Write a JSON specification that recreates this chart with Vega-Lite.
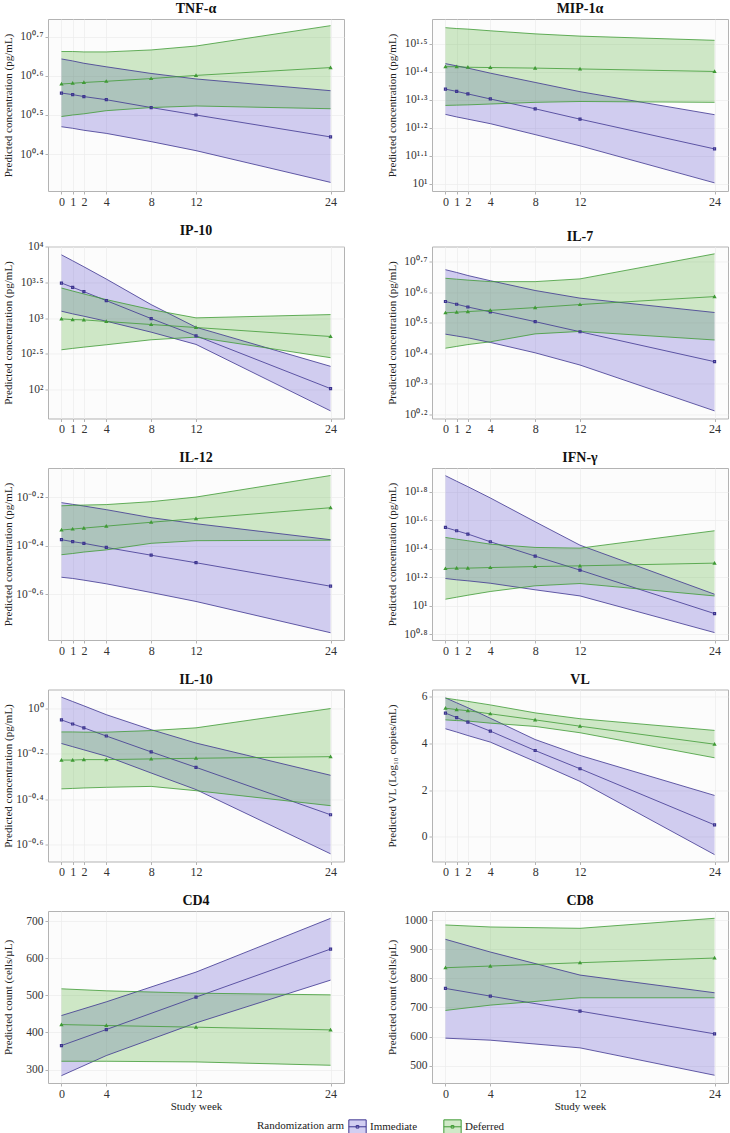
{
"$schema": "https://vega.github.io/schema/vega-lite/v6.json",
"padding": {"left": 1, "top": 1, "right": 0, "bottom": 0},
"background": "white",
"data": {"values": [
{"panel":"TNF-α","arm":"Immediate","week":0,"est":0.556,"lo":0.470,"hi":0.643},
{"panel":"TNF-α","arm":"Immediate","week":1,"est":0.552,"lo":0.466,"hi":0.638},
{"panel":"TNF-α","arm":"Immediate","week":2,"est":0.547,"lo":0.461,"hi":0.632},
{"panel":"TNF-α","arm":"Immediate","week":4,"est":0.539,"lo":0.453,"hi":0.623},
{"panel":"TNF-α","arm":"Immediate","week":8,"est":0.519,"lo":0.432,"hi":0.606},
{"panel":"TNF-α","arm":"Immediate","week":12,"est":0.500,"lo":0.409,"hi":0.592},
{"panel":"TNF-α","arm":"Immediate","week":24,"est":0.444,"lo":0.328,"hi":0.562},
{"panel":"TNF-α","arm":"Deferred","week":0,"est":0.579,"lo":0.496,"hi":0.662},
{"panel":"TNF-α","arm":"Deferred","week":1,"est":0.581,"lo":0.500,"hi":0.662},
{"panel":"TNF-α","arm":"Deferred","week":2,"est":0.583,"lo":0.503,"hi":0.661},
{"panel":"TNF-α","arm":"Deferred","week":4,"est":0.586,"lo":0.511,"hi":0.661},
{"panel":"TNF-α","arm":"Deferred","week":8,"est":0.593,"lo":0.519,"hi":0.666},
{"panel":"TNF-α","arm":"Deferred","week":12,"est":0.601,"lo":0.523,"hi":0.676},
{"panel":"TNF-α","arm":"Deferred","week":24,"est":0.621,"lo":0.516,"hi":0.728},
{"panel":"MIP-1α","arm":"Immediate","week":0,"est":1.338,"lo":1.248,"hi":1.429},
{"panel":"MIP-1α","arm":"Immediate","week":1,"est":1.330,"lo":1.239,"hi":1.421},
{"panel":"MIP-1α","arm":"Immediate","week":2,"est":1.321,"lo":1.231,"hi":1.413},
{"panel":"MIP-1α","arm":"Immediate","week":4,"est":1.303,"lo":1.215,"hi":1.395},
{"panel":"MIP-1α","arm":"Immediate","week":8,"est":1.268,"lo":1.176,"hi":1.362},
{"panel":"MIP-1α","arm":"Immediate","week":12,"est":1.231,"lo":1.136,"hi":1.329},
{"panel":"MIP-1α","arm":"Immediate","week":24,"est":1.125,"lo":1.004,"hi":1.247},
{"panel":"MIP-1α","arm":"Deferred","week":0,"est":1.418,"lo":1.280,"hi":1.557},
{"panel":"MIP-1α","arm":"Deferred","week":1,"est":1.418,"lo":1.281,"hi":1.554},
{"panel":"MIP-1α","arm":"Deferred","week":2,"est":1.416,"lo":1.282,"hi":1.552},
{"panel":"MIP-1α","arm":"Deferred","week":4,"est":1.415,"lo":1.285,"hi":1.546},
{"panel":"MIP-1α","arm":"Deferred","week":8,"est":1.413,"lo":1.291,"hi":1.535},
{"panel":"MIP-1α","arm":"Deferred","week":12,"est":1.410,"lo":1.294,"hi":1.527},
{"panel":"MIP-1α","arm":"Deferred","week":24,"est":1.401,"lo":1.291,"hi":1.512},
{"panel":"IP-10","arm":"Immediate","week":0,"est":3.493,"lo":3.098,"hi":3.888},
{"panel":"IP-10","arm":"Immediate","week":1,"est":3.433,"lo":3.061,"hi":3.805},
{"panel":"IP-10","arm":"Immediate","week":2,"est":3.372,"lo":3.028,"hi":3.721},
{"panel":"IP-10","arm":"Immediate","week":4,"est":3.247,"lo":2.958,"hi":3.549},
{"panel":"IP-10","arm":"Immediate","week":8,"est":2.995,"lo":2.805,"hi":3.191},
{"panel":"IP-10","arm":"Immediate","week":12,"est":2.754,"lo":2.633,"hi":2.874},
{"panel":"IP-10","arm":"Immediate","week":24,"est":2.014,"lo":1.702,"hi":2.326},
{"panel":"IP-10","arm":"Deferred","week":0,"est":2.991,"lo":2.558,"hi":3.423},
{"panel":"IP-10","arm":"Deferred","week":1,"est":2.981,"lo":2.577,"hi":3.381},
{"panel":"IP-10","arm":"Deferred","week":2,"est":2.977,"lo":2.595,"hi":3.340},
{"panel":"IP-10","arm":"Deferred","week":4,"est":2.954,"lo":2.628,"hi":3.261},
{"panel":"IP-10","arm":"Deferred","week":8,"est":2.912,"lo":2.698,"hi":3.121},
{"panel":"IP-10","arm":"Deferred","week":12,"est":2.870,"lo":2.735,"hi":3.005},
{"panel":"IP-10","arm":"Deferred","week":24,"est":2.744,"lo":2.447,"hi":3.051},
{"panel":"IL-7","arm":"Immediate","week":0,"est":0.569,"lo":0.462,"hi":0.673},
{"panel":"IL-7","arm":"Immediate","week":1,"est":0.560,"lo":0.456,"hi":0.664},
{"panel":"IL-7","arm":"Immediate","week":2,"est":0.551,"lo":0.450,"hi":0.654},
{"panel":"IL-7","arm":"Immediate","week":4,"est":0.535,"lo":0.435,"hi":0.637},
{"panel":"IL-7","arm":"Immediate","week":8,"est":0.503,"lo":0.401,"hi":0.605},
{"panel":"IL-7","arm":"Immediate","week":12,"est":0.470,"lo":0.361,"hi":0.580},
{"panel":"IL-7","arm":"Immediate","week":24,"est":0.372,"lo":0.211,"hi":0.533},
{"panel":"IL-7","arm":"Deferred","week":0,"est":0.532,"lo":0.416,"hi":0.645},
{"panel":"IL-7","arm":"Deferred","week":1,"est":0.534,"lo":0.422,"hi":0.642},
{"panel":"IL-7","arm":"Deferred","week":2,"est":0.536,"lo":0.428,"hi":0.639},
{"panel":"IL-7","arm":"Deferred","week":4,"est":0.540,"lo":0.437,"hi":0.634},
{"panel":"IL-7","arm":"Deferred","week":8,"est":0.549,"lo":0.463,"hi":0.634},
{"panel":"IL-7","arm":"Deferred","week":12,"est":0.559,"lo":0.471,"hi":0.643},
{"panel":"IL-7","arm":"Deferred","week":24,"est":0.585,"lo":0.443,"hi":0.725},
{"panel":"IL-12","arm":"Immediate","week":0,"est":-0.375,"lo":-0.530,"hi":-0.222},
{"panel":"IL-12","arm":"Immediate","week":1,"est":-0.383,"lo":-0.535,"hi":-0.229},
{"panel":"IL-12","arm":"Immediate","week":2,"est":-0.390,"lo":-0.542,"hi":-0.236},
{"panel":"IL-12","arm":"Immediate","week":4,"est":-0.407,"lo":-0.557,"hi":-0.251},
{"panel":"IL-12","arm":"Immediate","week":8,"est":-0.439,"lo":-0.593,"hi":-0.284},
{"panel":"IL-12","arm":"Immediate","week":12,"est":-0.470,"lo":-0.630,"hi":-0.309},
{"panel":"IL-12","arm":"Immediate","week":24,"est":-0.567,"lo":-0.759,"hi":-0.375},
{"panel":"IL-12","arm":"Deferred","week":0,"est":-0.335,"lo":-0.437,"hi":-0.235},
{"panel":"IL-12","arm":"Deferred","week":1,"est":-0.331,"lo":-0.432,"hi":-0.233},
{"panel":"IL-12","arm":"Deferred","week":2,"est":-0.327,"lo":-0.426,"hi":-0.232},
{"panel":"IL-12","arm":"Deferred","week":4,"est":-0.319,"lo":-0.417,"hi":-0.230},
{"panel":"IL-12","arm":"Deferred","week":8,"est":-0.303,"lo":-0.390,"hi":-0.218},
{"panel":"IL-12","arm":"Deferred","week":12,"est":-0.288,"lo":-0.379,"hi":-0.199},
{"panel":"IL-12","arm":"Deferred","week":24,"est":-0.243,"lo":-0.377,"hi":-0.110},
{"panel":"IFN-γ","arm":"Immediate","week":0,"est":1.549,"lo":1.191,"hi":1.912},
{"panel":"IFN-γ","arm":"Immediate","week":1,"est":1.526,"lo":1.182,"hi":1.873},
{"panel":"IFN-γ","arm":"Immediate","week":2,"est":1.503,"lo":1.175,"hi":1.835},
{"panel":"IFN-γ","arm":"Immediate","week":4,"est":1.449,"lo":1.158,"hi":1.756},
{"panel":"IFN-γ","arm":"Immediate","week":8,"est":1.348,"lo":1.112,"hi":1.589},
{"panel":"IFN-γ","arm":"Immediate","week":12,"est":1.250,"lo":1.069,"hi":1.425},
{"panel":"IFN-γ","arm":"Immediate","week":24,"est":0.945,"lo":0.812,"hi":1.081},
{"panel":"IFN-γ","arm":"Deferred","week":0,"est":1.261,"lo":1.046,"hi":1.479},
{"panel":"IFN-γ","arm":"Deferred","week":1,"est":1.264,"lo":1.060,"hi":1.467},
{"panel":"IFN-γ","arm":"Deferred","week":2,"est":1.264,"lo":1.074,"hi":1.456},
{"panel":"IFN-γ","arm":"Deferred","week":4,"est":1.268,"lo":1.100,"hi":1.432},
{"panel":"IFN-γ","arm":"Deferred","week":8,"est":1.275,"lo":1.140,"hi":1.409},
{"panel":"IFN-γ","arm":"Deferred","week":12,"est":1.280,"lo":1.156,"hi":1.404},
{"panel":"IFN-γ","arm":"Deferred","week":24,"est":1.299,"lo":1.069,"hi":1.526},
{"panel":"IL-10","arm":"Immediate","week":0,"est":-0.050,"lo":-0.154,"hi":0.050},
{"panel":"IL-10","arm":"Immediate","week":1,"est":-0.068,"lo":-0.168,"hi":0.031},
{"panel":"IL-10","arm":"Immediate","week":2,"est":-0.085,"lo":-0.182,"hi":0.012},
{"panel":"IL-10","arm":"Immediate","week":4,"est":-0.121,"lo":-0.210,"hi":-0.027},
{"panel":"IL-10","arm":"Immediate","week":8,"est":-0.191,"lo":-0.284,"hi":-0.093},
{"panel":"IL-10","arm":"Immediate","week":12,"est":-0.259,"lo":-0.357,"hi":-0.152},
{"panel":"IL-10","arm":"Immediate","week":24,"est":-0.468,"lo":-0.640,"hi":-0.294},
{"panel":"IL-10","arm":"Deferred","week":0,"est":-0.227,"lo":-0.354,"hi":-0.103},
{"panel":"IL-10","arm":"Deferred","week":1,"est":-0.227,"lo":-0.352,"hi":-0.103},
{"panel":"IL-10","arm":"Deferred","week":2,"est":-0.225,"lo":-0.350,"hi":-0.104},
{"panel":"IL-10","arm":"Deferred","week":4,"est":-0.225,"lo":-0.347,"hi":-0.104},
{"panel":"IL-10","arm":"Deferred","week":8,"est":-0.222,"lo":-0.343,"hi":-0.097},
{"panel":"IL-10","arm":"Deferred","week":12,"est":-0.219,"lo":-0.362,"hi":-0.085},
{"panel":"IL-10","arm":"Deferred","week":24,"est":-0.212,"lo":-0.428,"hi":0.000},
{"panel":"VL","arm":"Immediate","week":0,"est":5.29,"lo":4.62,"hi":5.94},
{"panel":"VL","arm":"Immediate","week":1,"est":5.10,"lo":4.48,"hi":5.73},
{"panel":"VL","arm":"Immediate","week":2,"est":4.90,"lo":4.33,"hi":5.52},
{"panel":"VL","arm":"Immediate","week":4,"est":4.52,"lo":4.05,"hi":5.07},
{"panel":"VL","arm":"Immediate","week":8,"est":3.69,"lo":3.22,"hi":4.16},
{"panel":"VL","arm":"Immediate","week":12,"est":2.91,"lo":2.37,"hi":3.48},
{"panel":"VL","arm":"Immediate","week":24,"est":0.51,"lo":-0.76,"hi":1.77},
{"panel":"VL","arm":"Deferred","week":0,"est":5.50,"lo":5.00,"hi":5.93},
{"panel":"VL","arm":"Deferred","week":1,"est":5.44,"lo":4.97,"hi":5.86},
{"panel":"VL","arm":"Deferred","week":2,"est":5.39,"lo":4.95,"hi":5.79},
{"panel":"VL","arm":"Deferred","week":4,"est":5.26,"lo":4.86,"hi":5.64},
{"panel":"VL","arm":"Deferred","week":8,"est":5.00,"lo":4.72,"hi":5.30},
{"panel":"VL","arm":"Deferred","week":12,"est":4.73,"lo":4.45,"hi":5.05},
{"panel":"VL","arm":"Deferred","week":24,"est":3.96,"lo":3.38,"hi":4.55},
{"panel":"CD4","arm":"Immediate","week":0,"est":364.7,"lo":283.8,"hi":445.6},
{"panel":"CD4","arm":"Immediate","week":4,"est":407.9,"lo":337.8,"hi":482.5},
{"panel":"CD4","arm":"Immediate","week":12,"est":495.1,"lo":425.8,"hi":562.5},
{"panel":"CD4","arm":"Immediate","week":24,"est":624.5,"lo":540.9,"hi":707.2},
{"panel":"CD4","arm":"Deferred","week":0,"est":421.3,"lo":322.5,"hi":517.5},
{"panel":"CD4","arm":"Deferred","week":4,"est":418.7,"lo":322.5,"hi":512.1},
{"panel":"CD4","arm":"Deferred","week":12,"est":414.2,"lo":320.7,"hi":505.8},
{"panel":"CD4","arm":"Deferred","week":24,"est":407.0,"lo":311.7,"hi":501.3},
{"panel":"CD8","arm":"Immediate","week":0,"est":765.5,"lo":594.3,"hi":934.5},
{"panel":"CD8","arm":"Immediate","week":4,"est":739.1,"lo":587.4,"hi":890.8},
{"panel":"CD8","arm":"Immediate","week":12,"est":687.4,"lo":560.9,"hi":811.5},
{"panel":"CD8","arm":"Immediate","week":24,"est":609.2,"lo":466.7,"hi":750.6},
{"panel":"CD8","arm":"Deferred","week":0,"est":836.8,"lo":689.7,"hi":983.9},
{"panel":"CD8","arm":"Deferred","week":4,"est":842.5,"lo":708.0,"hi":977.0},
{"panel":"CD8","arm":"Deferred","week":12,"est":854.0,"lo":733.3,"hi":972.4},
{"panel":"CD8","arm":"Deferred","week":24,"est":870.1,"lo":733.3,"hi":1006.9}
]},
"columns": 2,
"spacing": {"row": 14.5, "column": 40},
"concat": [
{"title": "TNF-α", "width": 296, "height": 172,
 "transform": [{"filter": "datum.panel === 'TNF-α'"}],
 "encoding": {"x": {"field": "week", "type": "quantitative", "scale": {"domain": [-1.2, 25.2], "nice": false, "zero": false}, "axis": {"values": [0,1,2,4,8,12,24], "tickCount": 20, "format": "d", "title": null}}},
 "layer": [
  {"mark": {"type": "area"}, "encoding": {"y": {"field": "lo", "type": "quantitative", "scale": {"domain": [0.306, 0.745], "nice": false, "zero": false}, "title": "Predicted concentration (pg/mL)", "axis": {"values": [0.4,0.5,0.6,0.7], "tickCount": 20, "labelExpr": "'10' + replace(replace(replace(replace(replace(replace(replace(replace(replace(replace(replace(replace('' + datum.value, regexp('0','g'), '⁰'), regexp('1','g'), '¹'), regexp('2','g'), '²'), regexp('3','g'), '³'), regexp('4','g'), '⁴'), regexp('5','g'), '⁵'), regexp('6','g'), '⁶'), regexp('7','g'), '⁷'), regexp('8','g'), '⁸'), regexp('9','g'), '⁹'), regexp('[.]','g'), '·'), regexp('-','g'), '⁻')"}}, "y2": {"field": "hi"}, "fill": {"field": "arm", "type": "nominal", "scale": {"domain": ["Immediate","Deferred"], "range": ["rgba(90,75,205,0.27)", "rgba(80,175,50,0.27)"]}, "title": "Randomization arm"}}},
  {"transform": [{"fold": ["lo","hi","est"], "as": ["stat","val"]}], "mark": {"type": "line", "strokeWidth": 0.8}, "encoding": {"y": {"field": "val", "type": "quantitative", "title": "Predicted concentration (pg/mL)"}, "stroke": {"field": "arm", "type": "nominal", "scale": {"domain": ["Immediate","Deferred"], "range": ["#3d3590", "#3f9a35"]}, "title": "Randomization arm"}, "detail": {"field": "stat", "type": "nominal"}}},
  {"transform": [{"filter": "datum.arm === 'Immediate'"}], "mark": {"type": "point", "shape": "square", "size": 4, "strokeWidth": 1.2, "opacity": 1}, "encoding": {"y": {"field": "est", "type": "quantitative", "title": "Predicted concentration (pg/mL)"}, "stroke": {"field": "arm", "type": "nominal", "title": "Randomization arm"}}},
  {"transform": [{"filter": "datum.arm === 'Deferred'"}], "mark": {"type": "point", "shape": "triangle-up", "size": 5, "strokeWidth": 1.2, "opacity": 1}, "encoding": {"y": {"field": "est", "type": "quantitative", "title": "Predicted concentration (pg/mL)"}, "stroke": {"field": "arm", "type": "nominal", "title": "Randomization arm"}}}
 ]},
{"title": "MIP-1α", "width": 296, "height": 172,
 "transform": [{"filter": "datum.panel === 'MIP-1α'"}],
 "encoding": {"x": {"field": "week", "type": "quantitative", "scale": {"domain": [-1.2, 25.2], "nice": false, "zero": false}, "axis": {"values": [0,1,2,4,8,12,24], "tickCount": 20, "format": "d", "title": null}}},
 "layer": [
  {"mark": {"type": "area"}, "encoding": {"y": {"field": "lo", "type": "quantitative", "scale": {"domain": [0.975, 1.588], "nice": false, "zero": false}, "title": "Predicted concentration (pg/mL)", "axis": {"values": [1,1.1,1.2,1.3,1.4,1.5], "tickCount": 20, "labelExpr": "'10' + replace(replace(replace(replace(replace(replace(replace(replace(replace(replace(replace(replace('' + datum.value, regexp('0','g'), '⁰'), regexp('1','g'), '¹'), regexp('2','g'), '²'), regexp('3','g'), '³'), regexp('4','g'), '⁴'), regexp('5','g'), '⁵'), regexp('6','g'), '⁶'), regexp('7','g'), '⁷'), regexp('8','g'), '⁸'), regexp('9','g'), '⁹'), regexp('[.]','g'), '·'), regexp('-','g'), '⁻')"}}, "y2": {"field": "hi"}, "fill": {"field": "arm", "type": "nominal", "title": "Randomization arm"}}},
  {"transform": [{"fold": ["lo","hi","est"], "as": ["stat","val"]}], "mark": {"type": "line", "strokeWidth": 0.8}, "encoding": {"y": {"field": "val", "type": "quantitative", "title": "Predicted concentration (pg/mL)"}, "stroke": {"field": "arm", "type": "nominal", "title": "Randomization arm"}, "detail": {"field": "stat", "type": "nominal"}}},
  {"transform": [{"filter": "datum.arm === 'Immediate'"}], "mark": {"type": "point", "shape": "square", "size": 4, "strokeWidth": 1.2, "opacity": 1}, "encoding": {"y": {"field": "est", "type": "quantitative", "title": "Predicted concentration (pg/mL)"}, "stroke": {"field": "arm", "type": "nominal", "title": "Randomization arm"}}},
  {"transform": [{"filter": "datum.arm === 'Deferred'"}], "mark": {"type": "point", "shape": "triangle-up", "size": 5, "strokeWidth": 1.2, "opacity": 1}, "encoding": {"y": {"field": "est", "type": "quantitative", "title": "Predicted concentration (pg/mL)"}, "stroke": {"field": "arm", "type": "nominal", "title": "Randomization arm"}}}
 ]},
{"title": "IP-10", "width": 296, "height": 172,
 "transform": [{"filter": "datum.panel === 'IP-10'"}],
 "encoding": {"x": {"field": "week", "type": "quantitative", "scale": {"domain": [-1.2, 25.2], "nice": false, "zero": false}, "axis": {"values": [0,1,2,4,8,12,24], "tickCount": 20, "format": "d", "title": null}}},
 "layer": [
  {"mark": {"type": "area"}, "encoding": {"y": {"field": "lo", "type": "quantitative", "scale": {"domain": [1.595, 4.005], "nice": false, "zero": false}, "title": "Predicted concentration (pg/mL)", "axis": {"values": [2,2.5,3,3.5,4], "tickCount": 20, "labelExpr": "'10' + replace(replace(replace(replace(replace(replace(replace(replace(replace(replace(replace(replace('' + datum.value, regexp('0','g'), '⁰'), regexp('1','g'), '¹'), regexp('2','g'), '²'), regexp('3','g'), '³'), regexp('4','g'), '⁴'), regexp('5','g'), '⁵'), regexp('6','g'), '⁶'), regexp('7','g'), '⁷'), regexp('8','g'), '⁸'), regexp('9','g'), '⁹'), regexp('[.]','g'), '·'), regexp('-','g'), '⁻')"}}, "y2": {"field": "hi"}, "fill": {"field": "arm", "type": "nominal", "title": "Randomization arm"}}},
  {"transform": [{"fold": ["lo","hi","est"], "as": ["stat","val"]}], "mark": {"type": "line", "strokeWidth": 0.8}, "encoding": {"y": {"field": "val", "type": "quantitative", "title": "Predicted concentration (pg/mL)"}, "stroke": {"field": "arm", "type": "nominal", "title": "Randomization arm"}, "detail": {"field": "stat", "type": "nominal"}}},
  {"transform": [{"filter": "datum.arm === 'Immediate'"}], "mark": {"type": "point", "shape": "square", "size": 4, "strokeWidth": 1.2, "opacity": 1}, "encoding": {"y": {"field": "est", "type": "quantitative", "title": "Predicted concentration (pg/mL)"}, "stroke": {"field": "arm", "type": "nominal", "title": "Randomization arm"}}},
  {"transform": [{"filter": "datum.arm === 'Deferred'"}], "mark": {"type": "point", "shape": "triangle-up", "size": 5, "strokeWidth": 1.2, "opacity": 1}, "encoding": {"y": {"field": "est", "type": "quantitative", "title": "Predicted concentration (pg/mL)"}, "stroke": {"field": "arm", "type": "nominal", "title": "Randomization arm"}}}
 ]},
{"title": "IL-7", "width": 296, "height": 172,
 "transform": [{"filter": "datum.panel === 'IL-7'"}],
 "encoding": {"x": {"field": "week", "type": "quantitative", "scale": {"domain": [-1.2, 25.2], "nice": false, "zero": false}, "axis": {"values": [0,1,2,4,8,12,24], "tickCount": 20, "format": "d", "title": null}}},
 "layer": [
  {"mark": {"type": "area"}, "encoding": {"y": {"field": "lo", "type": "quantitative", "scale": {"domain": [0.186, 0.749], "nice": false, "zero": false}, "title": "Predicted concentration (pg/mL)", "axis": {"values": [0.2,0.3,0.4,0.5,0.6,0.7], "tickCount": 20, "labelExpr": "'10' + replace(replace(replace(replace(replace(replace(replace(replace(replace(replace(replace(replace('' + datum.value, regexp('0','g'), '⁰'), regexp('1','g'), '¹'), regexp('2','g'), '²'), regexp('3','g'), '³'), regexp('4','g'), '⁴'), regexp('5','g'), '⁵'), regexp('6','g'), '⁶'), regexp('7','g'), '⁷'), regexp('8','g'), '⁸'), regexp('9','g'), '⁹'), regexp('[.]','g'), '·'), regexp('-','g'), '⁻')"}}, "y2": {"field": "hi"}, "fill": {"field": "arm", "type": "nominal", "title": "Randomization arm"}}},
  {"transform": [{"fold": ["lo","hi","est"], "as": ["stat","val"]}], "mark": {"type": "line", "strokeWidth": 0.8}, "encoding": {"y": {"field": "val", "type": "quantitative", "title": "Predicted concentration (pg/mL)"}, "stroke": {"field": "arm", "type": "nominal", "title": "Randomization arm"}, "detail": {"field": "stat", "type": "nominal"}}},
  {"transform": [{"filter": "datum.arm === 'Immediate'"}], "mark": {"type": "point", "shape": "square", "size": 4, "strokeWidth": 1.2, "opacity": 1}, "encoding": {"y": {"field": "est", "type": "quantitative", "title": "Predicted concentration (pg/mL)"}, "stroke": {"field": "arm", "type": "nominal", "title": "Randomization arm"}}},
  {"transform": [{"filter": "datum.arm === 'Deferred'"}], "mark": {"type": "point", "shape": "triangle-up", "size": 5, "strokeWidth": 1.2, "opacity": 1}, "encoding": {"y": {"field": "est", "type": "quantitative", "title": "Predicted concentration (pg/mL)"}, "stroke": {"field": "arm", "type": "nominal", "title": "Randomization arm"}}}
 ]},
{"title": "IL-12", "width": 296, "height": 172,
 "transform": [{"filter": "datum.panel === 'IL-12'"}],
 "encoding": {"x": {"field": "week", "type": "quantitative", "scale": {"domain": [-1.2, 25.2], "nice": false, "zero": false}, "axis": {"values": [0,1,2,4,8,12,24], "tickCount": 20, "format": "d", "title": null}}},
 "layer": [
  {"mark": {"type": "area"}, "encoding": {"y": {"field": "lo", "type": "quantitative", "scale": {"domain": [-0.789, -0.079], "nice": false, "zero": false}, "title": "Predicted concentration (pg/mL)", "axis": {"values": [-0.6,-0.4,-0.2], "tickCount": 20, "labelExpr": "'10' + replace(replace(replace(replace(replace(replace(replace(replace(replace(replace(replace(replace('' + datum.value, regexp('0','g'), '⁰'), regexp('1','g'), '¹'), regexp('2','g'), '²'), regexp('3','g'), '³'), regexp('4','g'), '⁴'), regexp('5','g'), '⁵'), regexp('6','g'), '⁶'), regexp('7','g'), '⁷'), regexp('8','g'), '⁸'), regexp('9','g'), '⁹'), regexp('[.]','g'), '·'), regexp('-','g'), '⁻')"}}, "y2": {"field": "hi"}, "fill": {"field": "arm", "type": "nominal", "title": "Randomization arm"}}},
  {"transform": [{"fold": ["lo","hi","est"], "as": ["stat","val"]}], "mark": {"type": "line", "strokeWidth": 0.8}, "encoding": {"y": {"field": "val", "type": "quantitative", "title": "Predicted concentration (pg/mL)"}, "stroke": {"field": "arm", "type": "nominal", "title": "Randomization arm"}, "detail": {"field": "stat", "type": "nominal"}}},
  {"transform": [{"filter": "datum.arm === 'Immediate'"}], "mark": {"type": "point", "shape": "square", "size": 4, "strokeWidth": 1.2, "opacity": 1}, "encoding": {"y": {"field": "est", "type": "quantitative", "title": "Predicted concentration (pg/mL)"}, "stroke": {"field": "arm", "type": "nominal", "title": "Randomization arm"}}},
  {"transform": [{"filter": "datum.arm === 'Deferred'"}], "mark": {"type": "point", "shape": "triangle-up", "size": 5, "strokeWidth": 1.2, "opacity": 1}, "encoding": {"y": {"field": "est", "type": "quantitative", "title": "Predicted concentration (pg/mL)"}, "stroke": {"field": "arm", "type": "nominal", "title": "Randomization arm"}}}
 ]},
{"title": "IFN-γ", "width": 296, "height": 172,
 "transform": [{"filter": "datum.panel === 'IFN-γ'"}],
 "encoding": {"x": {"field": "week", "type": "quantitative", "scale": {"domain": [-1.2, 25.2], "nice": false, "zero": false}, "axis": {"values": [0,1,2,4,8,12,24], "tickCount": 20, "format": "d", "title": null}}},
 "layer": [
  {"mark": {"type": "area"}, "encoding": {"y": {"field": "lo", "type": "quantitative", "scale": {"domain": [0.760, 1.966], "nice": false, "zero": false}, "title": "Predicted concentration (pg/mL)", "axis": {"values": [0.8,1,1.2,1.4,1.6,1.8], "tickCount": 20, "labelExpr": "'10' + replace(replace(replace(replace(replace(replace(replace(replace(replace(replace(replace(replace('' + datum.value, regexp('0','g'), '⁰'), regexp('1','g'), '¹'), regexp('2','g'), '²'), regexp('3','g'), '³'), regexp('4','g'), '⁴'), regexp('5','g'), '⁵'), regexp('6','g'), '⁶'), regexp('7','g'), '⁷'), regexp('8','g'), '⁸'), regexp('9','g'), '⁹'), regexp('[.]','g'), '·'), regexp('-','g'), '⁻')"}}, "y2": {"field": "hi"}, "fill": {"field": "arm", "type": "nominal", "title": "Randomization arm"}}},
  {"transform": [{"fold": ["lo","hi","est"], "as": ["stat","val"]}], "mark": {"type": "line", "strokeWidth": 0.8}, "encoding": {"y": {"field": "val", "type": "quantitative", "title": "Predicted concentration (pg/mL)"}, "stroke": {"field": "arm", "type": "nominal", "title": "Randomization arm"}, "detail": {"field": "stat", "type": "nominal"}}},
  {"transform": [{"filter": "datum.arm === 'Immediate'"}], "mark": {"type": "point", "shape": "square", "size": 4, "strokeWidth": 1.2, "opacity": 1}, "encoding": {"y": {"field": "est", "type": "quantitative", "title": "Predicted concentration (pg/mL)"}, "stroke": {"field": "arm", "type": "nominal", "title": "Randomization arm"}}},
  {"transform": [{"filter": "datum.arm === 'Deferred'"}], "mark": {"type": "point", "shape": "triangle-up", "size": 5, "strokeWidth": 1.2, "opacity": 1}, "encoding": {"y": {"field": "est", "type": "quantitative", "title": "Predicted concentration (pg/mL)"}, "stroke": {"field": "arm", "type": "nominal", "title": "Randomization arm"}}}
 ]},
{"title": "IL-10", "width": 296, "height": 172,
 "transform": [{"filter": "datum.panel === 'IL-10'"}],
 "encoding": {"x": {"field": "week", "type": "quantitative", "scale": {"domain": [-1.2, 25.2], "nice": false, "zero": false}, "axis": {"values": [0,1,2,4,8,12,24], "tickCount": 20, "format": "d", "title": null}}},
 "layer": [
  {"mark": {"type": "area"}, "encoding": {"y": {"field": "lo", "type": "quantitative", "scale": {"domain": [-0.674, 0.084], "nice": false, "zero": false}, "title": "Predicted concentration (pg/mL)", "axis": {"values": [-0.6,-0.4,-0.2,0], "tickCount": 20, "labelExpr": "'10' + replace(replace(replace(replace(replace(replace(replace(replace(replace(replace(replace(replace('' + datum.value, regexp('0','g'), '⁰'), regexp('1','g'), '¹'), regexp('2','g'), '²'), regexp('3','g'), '³'), regexp('4','g'), '⁴'), regexp('5','g'), '⁵'), regexp('6','g'), '⁶'), regexp('7','g'), '⁷'), regexp('8','g'), '⁸'), regexp('9','g'), '⁹'), regexp('[.]','g'), '·'), regexp('-','g'), '⁻')"}}, "y2": {"field": "hi"}, "fill": {"field": "arm", "type": "nominal", "title": "Randomization arm"}}},
  {"transform": [{"fold": ["lo","hi","est"], "as": ["stat","val"]}], "mark": {"type": "line", "strokeWidth": 0.8}, "encoding": {"y": {"field": "val", "type": "quantitative", "title": "Predicted concentration (pg/mL)"}, "stroke": {"field": "arm", "type": "nominal", "title": "Randomization arm"}, "detail": {"field": "stat", "type": "nominal"}}},
  {"transform": [{"filter": "datum.arm === 'Immediate'"}], "mark": {"type": "point", "shape": "square", "size": 4, "strokeWidth": 1.2, "opacity": 1}, "encoding": {"y": {"field": "est", "type": "quantitative", "title": "Predicted concentration (pg/mL)"}, "stroke": {"field": "arm", "type": "nominal", "title": "Randomization arm"}}},
  {"transform": [{"filter": "datum.arm === 'Deferred'"}], "mark": {"type": "point", "shape": "triangle-up", "size": 5, "strokeWidth": 1.2, "opacity": 1}, "encoding": {"y": {"field": "est", "type": "quantitative", "title": "Predicted concentration (pg/mL)"}, "stroke": {"field": "arm", "type": "nominal", "title": "Randomization arm"}}}
 ]},
{"title": "VL", "width": 296, "height": 172,
 "transform": [{"filter": "datum.panel === 'VL'"}],
 "encoding": {"x": {"field": "week", "type": "quantitative", "scale": {"domain": [-1.2, 25.2], "nice": false, "zero": false}, "axis": {"values": [0,1,2,4,8,12,24], "tickCount": 20, "format": "d", "title": null}}},
 "layer": [
  {"mark": {"type": "area"}, "encoding": {"y": {"field": "lo", "type": "quantitative", "scale": {"domain": [-1.055, 6.299], "nice": false, "zero": false}, "title": "Predicted VL (Log₁₀ copies/mL)", "axis": {"values": [0,2,4,6], "tickCount": 20, "format": "d"}}, "y2": {"field": "hi"}, "fill": {"field": "arm", "type": "nominal", "title": "Randomization arm"}}},
  {"transform": [{"fold": ["lo","hi","est"], "as": ["stat","val"]}], "mark": {"type": "line", "strokeWidth": 0.8}, "encoding": {"y": {"field": "val", "type": "quantitative", "title": "Predicted VL (Log₁₀ copies/mL)"}, "stroke": {"field": "arm", "type": "nominal", "title": "Randomization arm"}, "detail": {"field": "stat", "type": "nominal"}}},
  {"transform": [{"filter": "datum.arm === 'Immediate'"}], "mark": {"type": "point", "shape": "square", "size": 4, "strokeWidth": 1.2, "opacity": 1}, "encoding": {"y": {"field": "est", "type": "quantitative", "title": "Predicted VL (Log₁₀ copies/mL)"}, "stroke": {"field": "arm", "type": "nominal", "title": "Randomization arm"}}},
  {"transform": [{"filter": "datum.arm === 'Deferred'"}], "mark": {"type": "point", "shape": "triangle-up", "size": 5, "strokeWidth": 1.2, "opacity": 1}, "encoding": {"y": {"field": "est", "type": "quantitative", "title": "Predicted VL (Log₁₀ copies/mL)"}, "stroke": {"field": "arm", "type": "nominal", "title": "Randomization arm"}}}
 ]},
{"title": "CD4", "width": 296, "height": 172,
 "transform": [{"filter": "datum.panel === 'CD4'"}],
 "encoding": {"x": {"field": "week", "type": "quantitative", "scale": {"domain": [-1.2, 25.2], "nice": false, "zero": false}, "axis": {"values": [0,4,12,24], "tickCount": 20, "format": "d", "title": "Study week"}}},
 "layer": [
  {"mark": {"type": "area"}, "encoding": {"y": {"field": "lo", "type": "quantitative", "scale": {"domain": [264, 727], "nice": false, "zero": false}, "title": "Predicted count (cells/µL)", "axis": {"values": [300,400,500,600,700], "tickCount": 20, "format": "d"}}, "y2": {"field": "hi"}, "fill": {"field": "arm", "type": "nominal", "title": "Randomization arm"}}},
  {"transform": [{"fold": ["lo","hi","est"], "as": ["stat","val"]}], "mark": {"type": "line", "strokeWidth": 0.8}, "encoding": {"y": {"field": "val", "type": "quantitative", "title": "Predicted count (cells/µL)"}, "stroke": {"field": "arm", "type": "nominal", "title": "Randomization arm"}, "detail": {"field": "stat", "type": "nominal"}}},
  {"transform": [{"filter": "datum.arm === 'Immediate'"}], "mark": {"type": "point", "shape": "square", "size": 4, "strokeWidth": 1.2, "opacity": 1}, "encoding": {"y": {"field": "est", "type": "quantitative", "title": "Predicted count (cells/µL)"}, "stroke": {"field": "arm", "type": "nominal", "title": "Randomization arm"}}},
  {"transform": [{"filter": "datum.arm === 'Deferred'"}], "mark": {"type": "point", "shape": "triangle-up", "size": 5, "strokeWidth": 1.2, "opacity": 1}, "encoding": {"y": {"field": "est", "type": "quantitative", "title": "Predicted count (cells/µL)"}, "stroke": {"field": "arm", "type": "nominal", "title": "Randomization arm"}}}
 ]},
{"title": "CD8", "width": 296, "height": 172,
 "transform": [{"filter": "datum.panel === 'CD8'"}],
 "encoding": {"x": {"field": "week", "type": "quantitative", "scale": {"domain": [-1.2, 25.2], "nice": false, "zero": false}, "axis": {"values": [0,4,12,24], "tickCount": 20, "format": "d", "title": "Study week"}}},
 "layer": [
  {"mark": {"type": "area"}, "encoding": {"y": {"field": "lo", "type": "quantitative", "scale": {"domain": [440, 1032], "nice": false, "zero": false}, "title": "Predicted count (cells/µL)", "axis": {"values": [500,600,700,800,900,1000], "tickCount": 20, "format": "d"}}, "y2": {"field": "hi"}, "fill": {"field": "arm", "type": "nominal", "title": "Randomization arm"}}},
  {"transform": [{"fold": ["lo","hi","est"], "as": ["stat","val"]}], "mark": {"type": "line", "strokeWidth": 0.8}, "encoding": {"y": {"field": "val", "type": "quantitative", "title": "Predicted count (cells/µL)"}, "stroke": {"field": "arm", "type": "nominal", "title": "Randomization arm"}, "detail": {"field": "stat", "type": "nominal"}}},
  {"transform": [{"filter": "datum.arm === 'Immediate'"}], "mark": {"type": "point", "shape": "square", "size": 4, "strokeWidth": 1.2, "opacity": 1}, "encoding": {"y": {"field": "est", "type": "quantitative", "title": "Predicted count (cells/µL)"}, "stroke": {"field": "arm", "type": "nominal", "title": "Randomization arm"}}},
  {"transform": [{"filter": "datum.arm === 'Deferred'"}], "mark": {"type": "point", "shape": "triangle-up", "size": 5, "strokeWidth": 1.2, "opacity": 1}, "encoding": {"y": {"field": "est", "type": "quantitative", "title": "Predicted count (cells/µL)"}, "stroke": {"field": "arm", "type": "nominal", "title": "Randomization arm"}}}
 ]}
],
"config": {
 "font": "Liberation Serif",
 "view": {"fill": "#fcfcfc", "stroke": "#b3b3b3", "strokeWidth": 1},
 "axis": {"domain": false, "gridColor": "#ececec", "gridWidth": 0.7, "tickColor": "#b3b3b3", "tickSize": 3, "labelColor": "#333333", "labelFont": "Liberation Serif", "labelFontSize": 11.5, "labelPadding": 2, "labelOverlap": false, "titleFont": "Liberation Serif", "titleFontWeight": "normal", "titleFontSize": 11, "titleColor": "#222222"},
 "axisX": {"titlePadding": 1, "labelFlush": false, "labelFontSize": 12},
 "axisY": {"minExtent": 30, "maxExtent": 30, "titlePadding": 5},
 "title": {"font": "Liberation Serif", "fontSize": 14, "fontWeight": "bold", "offset": 3, "color": "#111111"},
 "legend": {"orient": "none", "legendX": 209, "legendY": 1098, "direction": "horizontal", "titleOrient": "left", "titleFont": "Liberation Serif", "titleFontWeight": "normal", "titleFontSize": 11, "titleColor": "#222222", "titlePadding": 3, "labelFont": "Liberation Serif", "labelFontSize": 11, "labelColor": "#222222", "labelOffset": 3, "symbolType": "M-1,-0.8H1V0.8H-1Z M-1,0H1 M-0.15,-0.15H0.15V0.15H-0.15Z", "symbolSize": 300, "symbolStrokeWidth": 1, "columnPadding": 23}
}
}
